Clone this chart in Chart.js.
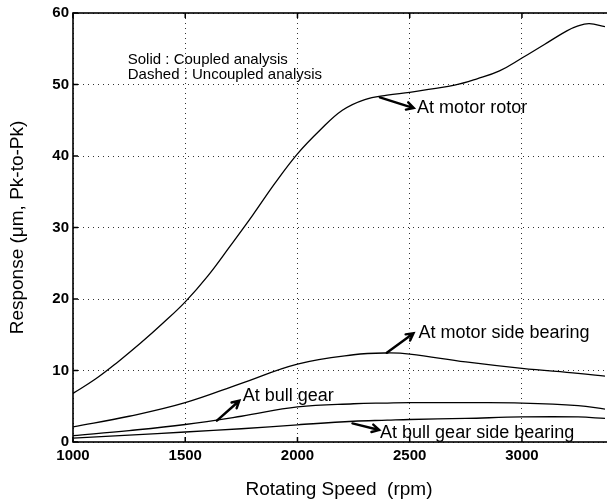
<!DOCTYPE html>
<html>
<head>
<meta charset="utf-8">
<script src="https://cdn.jsdelivr.net/npm/chart.js@4.4.0/dist/chart.umd.min.js"></script>
<style>
  html, body { margin: 0; padding: 0; background: #fff; }
  #wrap { width: 607px; height: 502px; }
</style>
</head>
<body>
<div id="wrap"><canvas id="responseChart"></canvas></div>
<script>
// Response vs rotating speed
const rotorSpeed = [1000, 1100, 1200, 1300, 1400, 1500, 1600, 1700, 1800, 1900, 2000, 2100, 2200,
    2300, 2400, 2500, 2600, 2700, 2800, 2900, 3000, 3100, 3200, 3250, 3300, 3370];
const motorRotor = [6.8, 8.8, 11.2, 13.8, 16.6, 19.6, 23.2, 27.4, 31.7, 36.2, 40.3, 43.6, 46.4,
    47.9, 48.5, 48.9, 49.4, 49.9, 50.8, 51.9, 53.7, 55.6, 57.5, 58.2, 58.5, 58.1];

const lowSpeed = [1000, 1250, 1500, 1750, 2000, 2250, 2400, 2500, 2750, 3000, 3250, 3370];
const motorSideBearing = [2.1, 3.6, 5.5, 8.2, 10.9, 12.2, 12.45, 12.3, 11.2, 10.3, 9.6, 9.2];
const bullGear = [0.9, 1.6, 2.45, 3.6, 4.9, 5.35, 5.45, 5.5, 5.5, 5.45, 5.1, 4.6];
const bullGearSideBearing = [0.55, 0.95, 1.4, 1.85, 2.4, 2.9, 3.05, 3.15, 3.3, 3.5, 3.5, 3.3];

const xTicks = [1000, 1500, 2000, 2500, 3000];
const yTicks = [0, 10, 20, 30, 40, 50, 60];

// annotation labels (text left / middle) and arrows, in data units
const noteText = ['At motor rotor', 'At motor side bearing', 'At bull gear', 'At bull gear side bearing'];
const noteAt = [[2533, 46.7], [2539, 15.2], [1756, 6.47], [2368, 1.3]];
const arrowFrom = [[2367, 48.2], [2398, 12.47], [1641, 2.98], [2245, 2.6]];
const arrowTo = [[2518, 46.7], [2517, 15.2], [1741, 5.77], [2364, 1.68]];
const keyText = ['Solid : Coupled analysis', 'Dashed : Uncoupled analysis'];
const keyAt = [[1244, 53.5], [1244, 51.3]];

const FONT = "'Liberation Sans', Arial, Helvetica, sans-serif";

function toPoints(xs, ys) {
    return xs.map((x, i) => ({ x: x, y: ys[i] }));
}

function lineSet(label, xs, ys) {
    return {
        label: label,
        data: toPoints(xs, ys),
        borderColor: '#000',
        borderWidth: 1.3,
        pointRadius: 0,
        fill: false,
        tension: 0.4
    };
}

// box + inward ticks, MATLAB style
const boxPlugin = {
    id: 'box',
    afterDatasetsDraw(chart) {
        const { ctx, chartArea: a, scales } = chart;
        ctx.save();
        ctx.strokeStyle = '#000';
        ctx.lineWidth = 1.5;
        ctx.beginPath();
        xTicks.forEach(v => {
            const px = scales.x.getPixelForValue(v);
            ctx.moveTo(px, a.bottom); ctx.lineTo(px, a.bottom - 5);
            ctx.moveTo(px, a.top); ctx.lineTo(px, a.top + 5);
        });
        yTicks.forEach(v => {
            const py = scales.y.getPixelForValue(v);
            ctx.moveTo(a.left, py); ctx.lineTo(a.left + 5, py);
        });
        ctx.stroke();
        ctx.lineWidth = 1.6;
        ctx.strokeRect(a.left, a.top, a.right - a.left + 4, a.bottom - a.top);
        ctx.restore();
    }
};

// text notes and arrows
const notePlugin = {
    id: 'notes',
    afterDatasetsDraw(chart) {
        const { ctx, scales } = chart;
        const px = v => scales.x.getPixelForValue(v);
        const py = v => scales.y.getPixelForValue(v);
        ctx.save();
        ctx.fillStyle = '#000';
        ctx.textBaseline = 'middle';
        ctx.textAlign = 'left';

        ctx.font = '15px ' + FONT;
        keyText.forEach((t, i) => ctx.fillText(t, px(keyAt[i][0]), py(keyAt[i][1])));

        ctx.font = '18px ' + FONT;
        noteText.forEach((t, i) => ctx.fillText(t, px(noteAt[i][0]), py(noteAt[i][1])));

        ctx.strokeStyle = '#000';
        ctx.lineWidth = 2.4;
        ctx.lineCap = 'round';
        arrowFrom.forEach((f, i) => {
            const x0 = px(f[0]), y0 = py(f[1]);
            const x1 = px(arrowTo[i][0]), y1 = py(arrowTo[i][1]);
            const ang = Math.atan2(y1 - y0, x1 - x0);
            const len = 8;
            ctx.beginPath();
            ctx.moveTo(x0, y0);
            ctx.lineTo(x1, y1);
            ctx.moveTo(x1 - len * Math.cos(ang - 0.5), y1 - len * Math.sin(ang - 0.5));
            ctx.lineTo(x1, y1);
            ctx.lineTo(x1 - len * Math.cos(ang + 0.5), y1 - len * Math.sin(ang + 0.5));
            ctx.stroke();
        });
        ctx.restore();
    }
};

const ctx = document.getElementById('responseChart');

new Chart(ctx, {
    type: 'line',
    data: {
        datasets: [
            lineSet('At motor rotor', rotorSpeed, motorRotor),
            lineSet('At motor side bearing', lowSpeed, motorSideBearing),
            lineSet('At bull gear', lowSpeed, bullGear),
            lineSet('At bull gear side bearing', lowSpeed, bullGearSideBearing)
        ]
    },
    options: {
        responsive: true,
        maintainAspectRatio: false,
        animation: false,
        layout: { padding: { top: 13, right: 2, left: 0, bottom: 0 } },
        plugins: {
            legend: { display: false },
            tooltip: { enabled: false }
        },
        scales: {
            x: {
                type: 'linear',
                min: 1000,
                max: 3370,
                afterBuildTicks: s => { s.ticks = xTicks.map(v => ({ value: v })); },
                afterFit: s => { s.height = 60; },
                border: { display: false, dash: [1, 4] },
                grid: {
                    color: '#333',
                    lineWidth: 1,
                    drawTicks: false
                },
                ticks: {
                    color: '#000',
                    padding: 5,
                    maxRotation: 0,
                    callback: v => String(v),
                    font: { family: FONT, size: 15, weight: 'bold' }
                },
                title: {
                    display: true,
                    text: 'Rotating Speed  (rpm)',
                    color: '#000',
                    padding: { top: 0, bottom: 1 },
                    font: { family: FONT, size: 19 }
                }
            },
            y: {
                min: 0,
                max: 60,
                afterBuildTicks: s => { s.ticks = yTicks.map(v => ({ value: v })); },
                afterFit: s => { s.width = 73; },
                border: { display: false, dash: [1, 4] },
                grid: {
                    color: '#333',
                    lineWidth: 1,
                    drawTicks: false
                },
                ticks: {
                    color: '#000',
                    padding: 4,
                    callback: v => String(v),
                    font: { family: FONT, size: 15, weight: 'bold' }
                },
                title: {
                    display: true,
                    text: 'Response (\u03bcm, Pk-to-Pk)',
                    color: '#000',
                    padding: { top: 6, bottom: 0 },
                    font: { family: FONT, size: 19 }
                }
            }
        }
    },
    plugins: [boxPlugin, notePlugin]
});
</script>
</body>
</html>
